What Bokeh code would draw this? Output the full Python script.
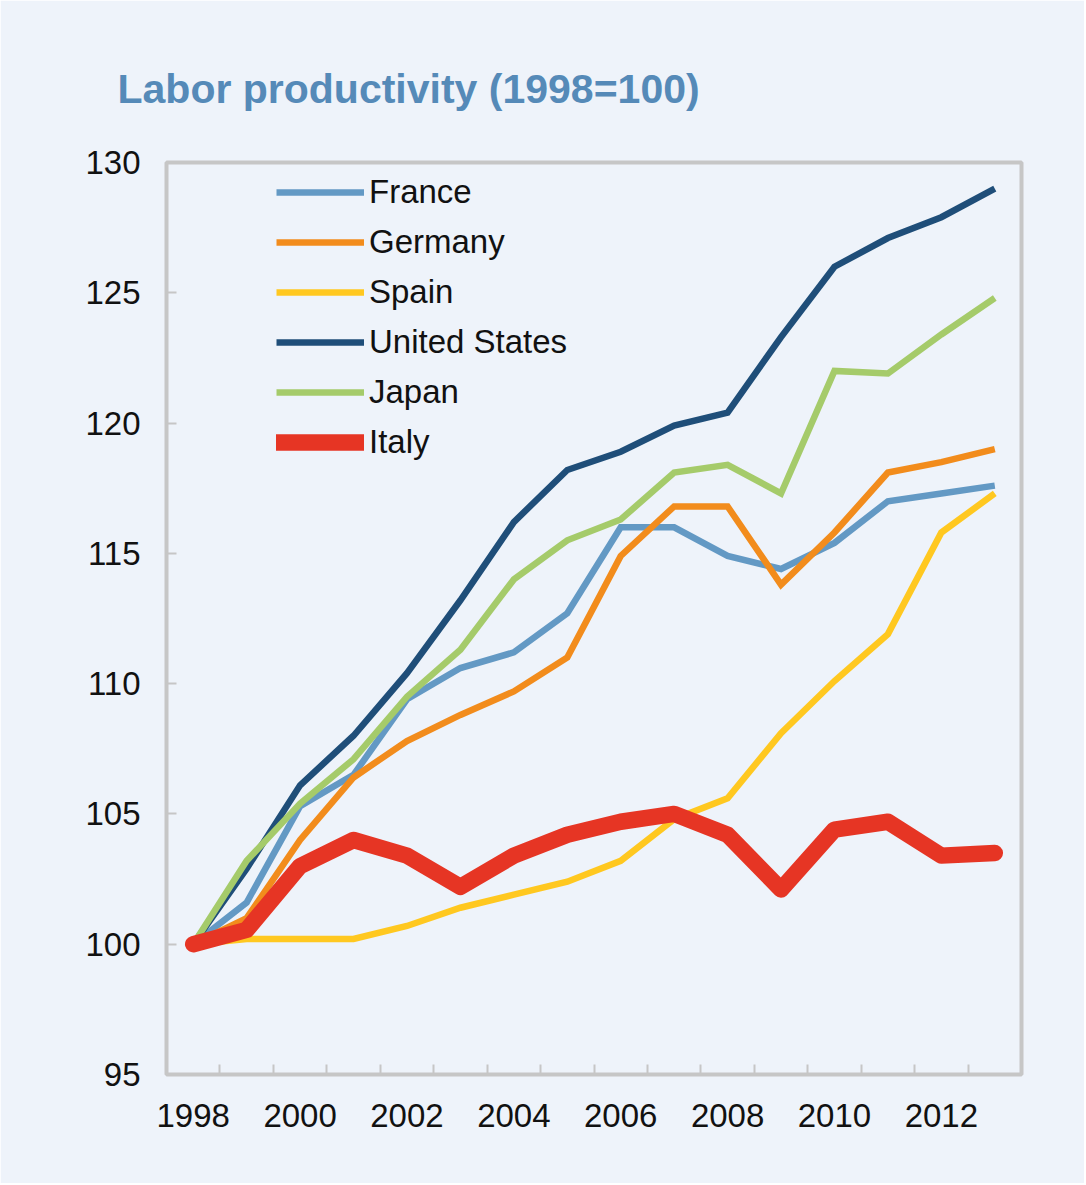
from bokeh.plotting import figure
from bokeh.models import Range1d, FixedTicker, Legend, LegendItem, Title
from bokeh.embed import file_html
from bokeh.resources import INLINE

years = list(range(1998, 2014))
france = [100, 101.6, 105.3, 106.5, 109.4, 110.6, 111.2, 112.7, 116.0, 116.0, 114.9, 114.4, 115.4, 117.0, 117.3, 117.6]
germany = [100, 101.0, 104.0, 106.4, 107.8, 108.8, 109.7, 111.0, 114.9, 116.8, 116.8, 113.8, 115.8, 118.1, 118.5, 119.0]
spain = [100, 100.2, 100.2, 100.2, 100.7, 101.4, 101.9, 102.4, 103.2, 104.8, 105.6, 108.1, 110.1, 111.9, 115.8, 117.3]
united_states = [100, 102.9, 106.1, 108.0, 110.4, 113.2, 116.2, 118.2, 118.9, 119.9, 120.4, 123.3, 126.0, 127.1, 127.9, 129.0]
japan = [100, 103.2, 105.4, 107.1, 109.5, 111.3, 114.0, 115.5, 116.3, 118.1, 118.4, 117.3, 122.0, 121.9, 123.4, 124.8]
italy = [100, 100.55, 103.0, 104.0, 103.4, 102.2, 103.4, 104.2, 104.7, 105.0, 104.2, 102.1, 104.4, 104.7, 103.4, 103.5]

x_tick_labels = [1998, 2000, 2002, 2004, 2006, 2008, 2010, 2012]
y_ticks = [95, 100, 105, 110, 115, 120, 125, 130]
title_text = "Labor productivity (1998=100)"

BG = "#EEF3FA"
FONT = "Liberation Sans"
GRAY = "#C6C6C6"

p = figure(width=1084, height=1183, output_backend="svg", toolbar_location=None,
           x_range=Range1d(1997.5, 2013.5), y_range=Range1d(95, 130),
           min_border_left=166, min_border_right=63, min_border_top=162, min_border_bottom=109)
p.background_fill_color = BG
p.border_fill_color = BG
p.grid.visible = False
p.outline_line_color = GRAY
p.outline_line_width = 4

series = [
    ("France", france, "#6399C4", 6.5),
    ("Germany", germany, "#F28C1C", 6.5),
    ("Spain", spain, "#FFC820", 6.5),
    ("United States", united_states, "#1F4E79", 6.5),
    ("Japan", japan, "#A5CB6A", 6.5),
    ("Italy", italy, "#E63524", 16.5),
]

items = []
for name, vals, color, w in series:
    if name == "Italy":
        r = p.line(years, vals, line_color=color, line_width=w, line_join="round", line_cap="round")
    else:
        r = p.line(years, vals, line_color=color, line_width=w, line_join="miter")
    items.append(LegendItem(label=name, renderers=[r]))

legend = Legend(items=items, location=(110, 612), glyph_width=88, glyph_height=40,
                label_height=40, spacing=10, padding=0, margin=0, label_standoff=5,
                label_text_font=FONT, label_text_font_size="33px", label_text_color="#111111",
                border_line_color=None, background_fill_alpha=0)
p.add_layout(legend, "center")

# axes
xa = p.xaxis[0]
xa.ticker = FixedTicker(ticks=x_tick_labels, minor_ticks=[y + 0.5 for y in years[:-1]])
xa.axis_line_color = None
xa.major_tick_line_color = None
xa.minor_tick_line_color = GRAY
xa.minor_tick_line_width = 2
xa.minor_tick_in = 10
xa.minor_tick_out = 0
xa.major_label_standoff = 23
xa.major_label_text_font = FONT
xa.major_label_text_font_size = "33px"
xa.major_label_text_color = "#111111"

ya = p.yaxis[0]
ya.ticker = FixedTicker(ticks=y_ticks)
ya.axis_line_color = None
ya.major_tick_line_color = GRAY
ya.major_tick_line_width = 2
ya.major_tick_in = 10
ya.major_tick_out = 0
ya.minor_tick_line_color = None
ya.major_label_standoff = 26
ya.major_label_text_font = FONT
ya.major_label_text_font_size = "33px"
ya.major_label_text_color = "#111111"

title = Title(text=title_text, align="left", offset=-49, standoff=101,
              text_font=FONT, text_font_size="41px", text_font_style="bold",
              text_color="#558AB8")
p.add_layout(title, "above")

open("out.html", "w").write(file_html(p, INLINE))
